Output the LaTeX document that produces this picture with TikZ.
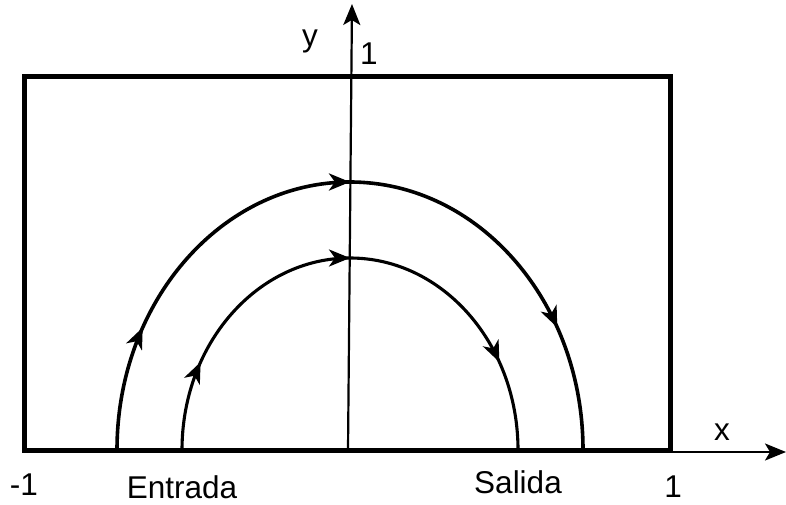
\documentclass[tikz,border=0pt]{standalone}
\usepackage{fontspec}
\setmainfont{Liberation Sans}
\usetikzlibrary{arrows.meta,decorations.markings}
\tikzset{
  lbl/.style={anchor=base,inner sep=0pt,font=\fontsize{31.5}{36}\selectfont},
  flow/.style={line width=#1,postaction={decorate},decoration={markings,
    mark=at position 0.16 with {\arrow{Stealth[length=21pt,width=17pt,inset=6pt]}},
    mark=at position 0.5 with {\arrow{Stealth[length=21pt,width=17pt,inset=6pt]}},
    mark=at position 0.84 with {\arrow{Stealth[length=21pt,width=17pt,inset=6pt]}}}},
  axis/.style={line width=2.2pt,-{Stealth[length=21pt,width=17pt,inset=5pt]}}
}
\begin{document}
\begin{tikzpicture}[x=1pt,y=-1pt]
\useasboundingbox (0,0) rectangle (786,505);
% box
\draw[line width=5pt] (24,77) rectangle (670,450);
% axes
\coordinate (yb) at (348,450);
\coordinate (yt) at (352,4);
\coordinate (xb) at (670,452);
\coordinate (xt) at (786,452);
\draw[axis] (yb) -- (yt);
\draw[axis] (xb) -- (xt);
% stream lines
\draw[flow=3.6pt] (117,450) arc[start angle=180,end angle=360,x radius=233,y radius=268];
\draw[flow=3.1pt] (182,450) arc[start angle=180,end angle=360,x radius=168,y radius=192];
% labels
\node[lbl] (ly) at (310,47) {y};
\node[lbl] (l1t) at (369,65) {1};
\node[lbl] (lx) at (722,440) {x};
\node[lbl] (lm1) at (24,495) {-1};
\node[lbl] (l1r) at (673,497) {1};
\node[lbl] (lin) at (182,498) {Entrada};
\node[lbl] (lout) at (518,493) {Salida};
\end{tikzpicture}
\end{document}
